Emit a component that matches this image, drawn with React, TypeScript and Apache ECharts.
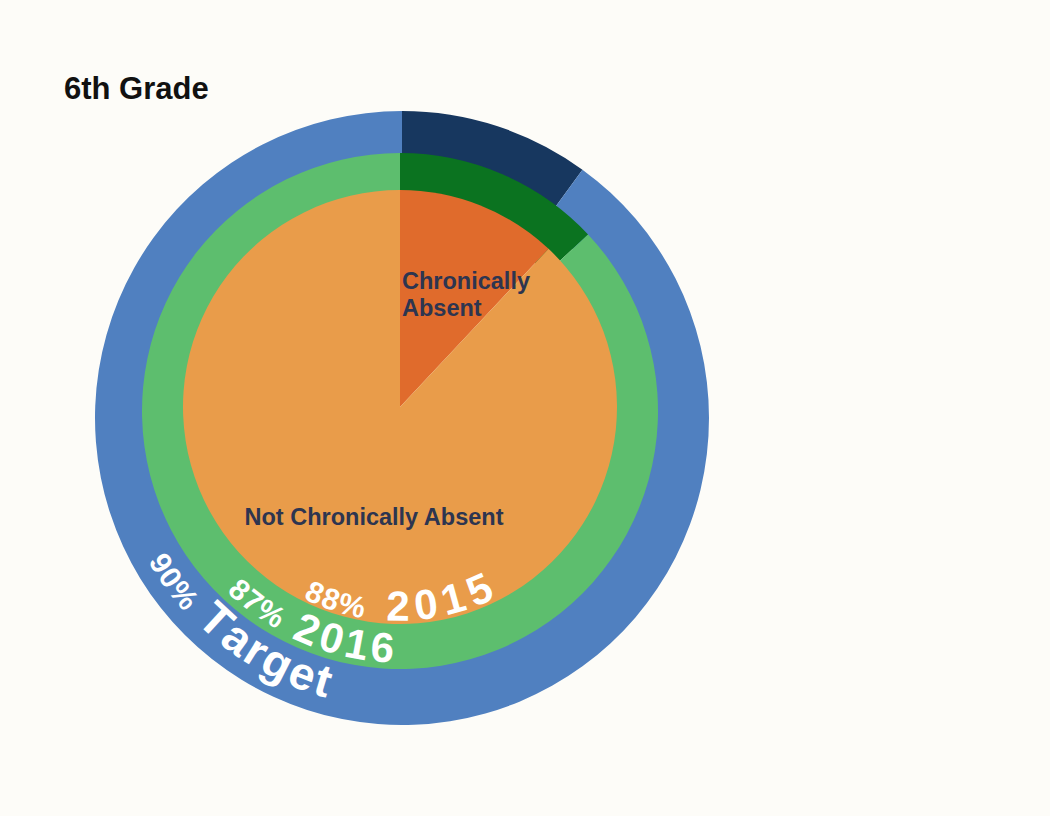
import React, { useEffect, useRef } from "react";
import * as echarts from "echarts";

const title = "6th Grade";
const categories = ["Chronically Absent", "Not Chronically Absent"];
const ringNames = ["2015", "2016", "Target"];
const values2015 = [12, 88];
const values2016 = [13, 87];
const valuesTarget = [10, 90];
const colors2015 = ["#E06B2C", "#E99C4A"];
const colors2016 = ["#0B7320", "#5DBE6E"];
const colorsTarget = ["#17375F", "#5080C0"];

const FONT = '"Liberation Sans", Arial, Helvetica, sans-serif';

let measureCtx: CanvasRenderingContext2D | null = null;
function measure(ch: string, size: number): number {
  if (!measureCtx) {
    const c = document.createElement("canvas");
    measureCtx = c.getContext("2d");
  }
  if (!measureCtx) return size * 0.6;
  measureCtx.font = `bold ${size}px ${FONT}`;
  return measureCtx.measureText(ch).width;
}

// place characters of a string along a circle arc around the bottom of the circle
function arcText(
  text: string,
  cx: number,
  cy: number,
  r: number,
  thetaCenterDeg: number,
  size: number,
  spacing: number
) {
  const chars = text.split("");
  const widths = chars.map((c) => measure(c, size));
  const total = widths.reduce((a, b) => a + b, 0) + spacing * (chars.length - 1);
  const span = total / r;
  const start = (thetaCenterDeg * Math.PI) / 180 - span / 2;
  let cum = 0;
  const out: any[] = [];
  chars.forEach((ch, i) => {
    const th = start + (cum + widths[i] / 2) / r;
    cum += widths[i] + spacing;
    out.push({
      type: "text",
      x: cx + r * Math.sin(th),
      y: cy + r * Math.cos(th),
      rotation: th,
      z: 100,
      silent: true,
      style: {
        text: ch,
        fontSize: size,
        fontWeight: "bold",
        fontFamily: FONT,
        fill: "#FFFFFF",
        align: "center",
        verticalAlign: "middle",
      },
    });
  });
  return out;
}

export default function App() {
  const ref = useRef<HTMLDivElement>(null);
  useEffect(() => {
    if (!ref.current) return;
    const chart = echarts.init(ref.current, null, { renderer: "svg" });

    const c2015 = [400, 407];
    const c2016 = [400, 411];
    const cTarget = [402, 418];

    const mk = (vals: number[], cols: string[]) =>
      categories.map((name, i) => ({
        name,
        value: vals[i],
        itemStyle: { color: cols[i] },
      }));

    const pct = (vals: number[]) => `${vals[1]}%`;

    const graphics: any[] = [
      ...arcText(pct(values2015), c2015[0], c2015[1], 204, -18.4, 30, 0.5),
      ...arcText(ringNames[0], c2015[0], c2015[1], 199, 11.5, 42, 4.5),
      ...arcText(pct(values2016), c2016[0], c2016[1], 240, -36.6, 30, 0.5),
      ...arcText(ringNames[1], c2016[0], c2016[1], 237, -13.6, 42, 2.5),
      ...arcText(pct(valuesTarget), cTarget[0], cTarget[1], 281, -54.4, 30, 0.5),
      ...arcText(ringNames[2], cTarget[0], cTarget[1], 274, -30.3, 46, 1),
      {
        type: "text",
        x: 402,
        y: 267,
        z: 100,
        silent: true,
        style: {
          text: "Chronically\nAbsent",
          fontSize: 23.5,
          fontWeight: "bold",
          fontFamily: FONT,
          fill: "#2D3550",
          align: "left",
          verticalAlign: "top",
          lineHeight: 27,
        },
      },
      {
        type: "text",
        x: 374,
        y: 517,
        z: 100,
        silent: true,
        style: {
          text: categories[1],
          fontSize: 23.5,
          fontWeight: "bold",
          fontFamily: FONT,
          fill: "#2D3550",
          align: "center",
          verticalAlign: "middle",
        },
      },
    ];

    const common = {
      type: "pie",
      startAngle: 90,
      clockwise: true,
      label: { show: false },
      labelLine: { show: false },
      silent: true,
      emphasis: { disabled: true },
      itemStyle: { borderWidth: 0 },
    };

    chart.setOption({
      animation: false,
      backgroundColor: "#FDFCF8",
      title: {
        text: title,
        left: 59,
        top: 68,
        textStyle: {
          fontSize: 31,
          fontWeight: "bold",
          fontFamily: FONT,
          color: "#111111",
        },
      },
      series: [
        {
          ...common,
          name: ringNames[2],
          center: cTarget,
          radius: [240, 307],
          data: mk(valuesTarget, colorsTarget),
        },
        {
          ...common,
          name: ringNames[1],
          center: c2016,
          radius: [200, 258],
          data: mk(values2016, colors2016),
        },
        {
          ...common,
          name: ringNames[0],
          center: c2015,
          radius: [0, 217],
          data: mk(values2015, colors2015),
        },
      ],
      graphic: graphics,
    });

    return () => chart.dispose();
  }, []);

  return (
    <div
      ref={ref}
      style={{
        position: "fixed",
        left: 0,
        top: 0,
        width: 1050,
        height: 816,
        background: "#FDFCF8",
      }}
    />
  );
}
